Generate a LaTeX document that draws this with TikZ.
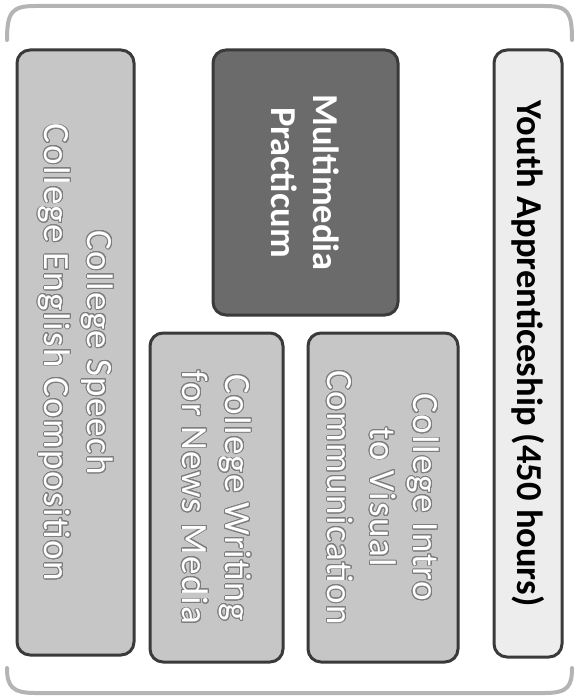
\documentclass[tikz,border=0pt]{standalone}
\usepackage{fontspec}
\setmainfont{Carlito}
\newfontfamily\spaced[LetterSpace=4.0]{Carlito}
\usepackage{contour}
\contourlength{0.9pt}
\contournumber{24}
\definecolor{boxline}{HTML}{3A3A3A}
\definecolor{boxfill}{HTML}{C6C6C6}
\definecolor{darkfill}{HTML}{6B6B6B}
\definecolor{lightfill}{HTML}{EDEDED}
\definecolor{bracket}{HTML}{B4B4B4}
\definecolor{outlinegray}{HTML}{7E7E7E}
\newcommand{\outl}[1]{\contour{outlinegray}{#1}}
\begin{document}
\begin{tikzpicture}[x=1pt,y=-1pt,
  course/.style={draw=boxline, line width=3pt, rounded corners=13pt, inner sep=0pt,
    rotate=-90, align=center},
  lightcourse/.style={course, fill=boxfill, text=white, font=\spaced\fontsize{37}{43}\selectfont},
  boldcourse/.style={course, font=\bfseries\fontsize{36.5}{42}\selectfont},
  brk/.style={draw=bracket, line width=4pt, line cap=round}]
\useasboundingbox (0,0) rectangle (580,698);
\fill[white] (0,0) rectangle (580,698);
% brackets
\coordinate (tl) at (7,40);
\coordinate (tr) at (572,40);
\coordinate (bl) at (7,668);
\coordinate (br) at (572,668);
\draw[brk] (tl) .. controls (7,12) and (12,6) .. (35,6) -- (545,6) .. controls (568,6) and (572,12) .. (tr);
\draw[brk] (bl) .. controls (7,686) and (12,693) .. (35,693) -- (545,693) .. controls (568,693) and (572,686) .. (br);
% boxes (rotated: width = vertical extent, height = horizontal extent)
\node[lightcourse, minimum width=605pt, minimum height=117pt] (speech) at (75.5,352.5)
  {\outl{College Speech}\\\outl{College English Composition}};
\node[boldcourse, fill=darkfill, text=white, minimum width=265pt, minimum height=185pt] (multi) at (305.5,182.5)
  {Multimedia\\Practicum};
\node[lightcourse, minimum width=329pt, minimum height=133pt] (writing) at (216.5,497.5)
  {\outl{College Writing}\\\outl{for News Media}};
\node[lightcourse, minimum width=329pt, minimum height=150pt] (intro) at (383,497.5)
  {\outl{College Intro}\\\outl{to Visual}\\\outl{Communication}};
\node[boldcourse, fill=lightfill, text=black, minimum width=607pt, minimum height=68pt] (youth) at (528,353.5)
  {Youth Apprenticeship (450 hours)};
\end{tikzpicture}
\end{document}
